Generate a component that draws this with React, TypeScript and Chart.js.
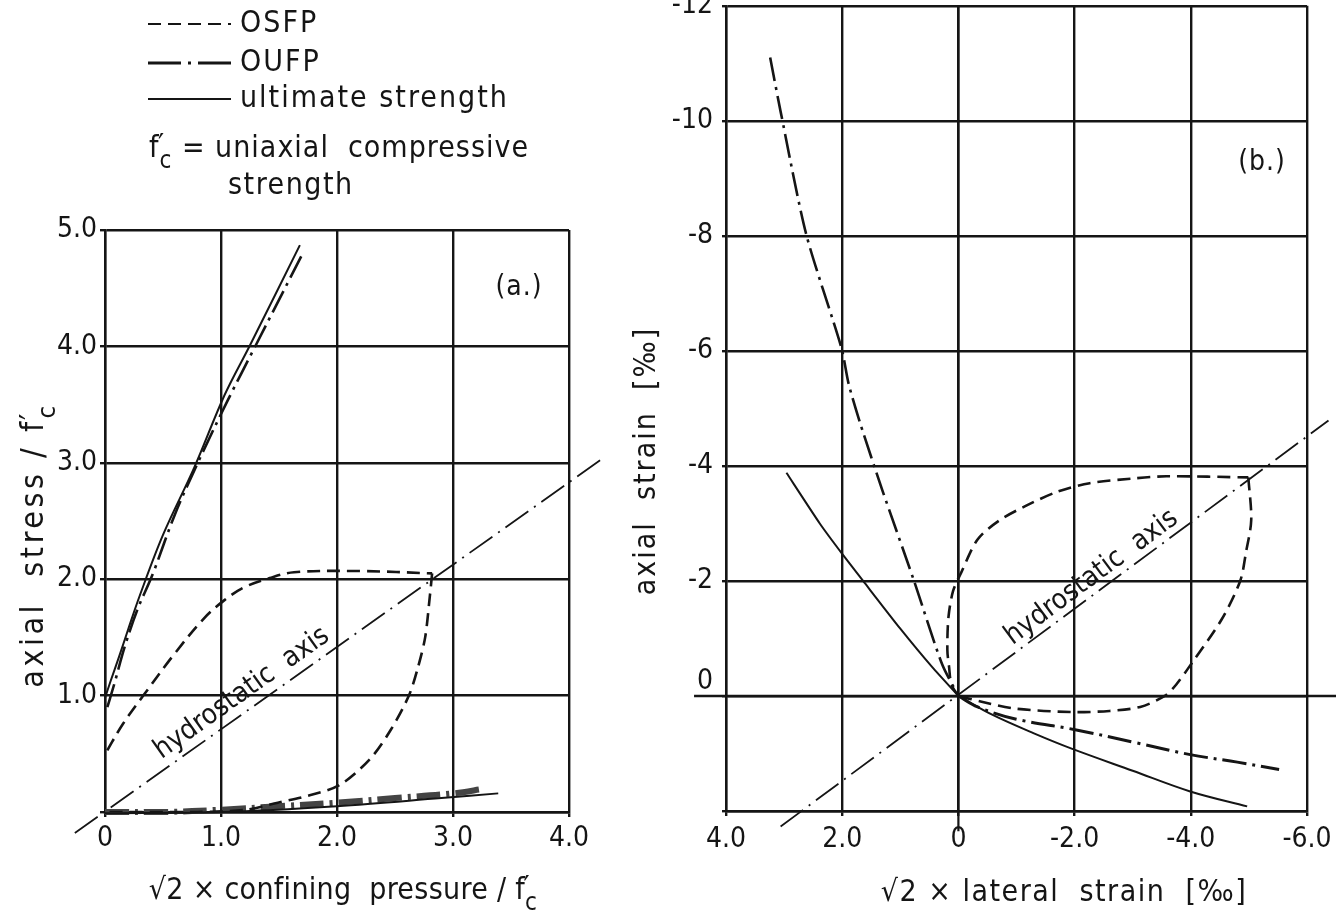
import { useEffect, useRef } from 'react';
import { Chart, registerables } from 'chart.js';

Chart.register(...registerables);

const FONT = '"Liberation Sans Narrow", "DejaVu Sans Condensed", "Liberation Sans", sans-serif';
const INK = '#151515';

// ---------- legend / notes ----------
const legendNames = ['OSFP', 'OUFP', 'ultimate strength'];
const noteText = ' = uniaxial  compressive';
const noteText2 = 'strength';

// ---------- panel (a) ----------
const aXTickValues = [0, 1, 2, 3, 4];
const aXTickLabels = ['0', '1.0', '2.0', '3.0', '4.0'];
const aYTickValues = [0, 1, 2, 3, 4, 5];
const aYTickLabels = ['', '1.0', '2.0', '3.0', '4.0', '5.0'];

const aUltimate: [number, number][] = [[0, 0.98], [0.05, 1.13], [0.12, 1.33], [0.2, 1.57], [0.3, 1.86], [0.5, 2.38], [0.77, 2.96], [1.03, 3.58], [1.25, 4.01], [1.68, 4.87]];
const aOUFP: [number, number][] = [[0.02, 0.9], [0.08, 1.1], [0.17, 1.42], [0.28, 1.74], [0.41, 2.04], [0.6, 2.55], [0.8, 3.0], [1.06, 3.54], [1.3, 4.01], [1.7, 4.79]];
const aUltimateBase: [number, number][] = [[0, -0.01], [1.0, 0.0], [2.0, 0.05], [2.9, 0.12], [3.39, 0.16]];
const aOUFPBase: [number, number][] = [[0, 0], [0.5, 0.0], [1.0, 0.02], [1.5, 0.05], [2.0, 0.08], [2.5, 0.12], [3.0, 0.16], [3.27, 0.2]];
const aOSFPUp: [number, number][] = [[0.02, 0.53], [0.15, 0.75], [0.33, 1.0], [0.6, 1.36], [0.85, 1.66], [1.03, 1.82], [1.2, 1.93], [1.42, 2.01], [1.63, 2.06], [2.2, 2.07], [2.82, 2.05]];
const aOSFPDown: [number, number][] = [[2.82, 2.05], [2.8, 1.85], [2.76, 1.5], [2.7, 1.25], [2.62, 1.0], [2.46, 0.7], [2.28, 0.45], [2.02, 0.23], [1.75, 0.14], [1.49, 0.08], [1.22, 0.02], [0.8, 0.0], [0, 0]];
const aHydro: [number, number][] = [[-0.26, -0.18], [4.28, 3.03]];
const aHydroLabelAt: [number, number] = [1.18, 1.02];

// ---------- panel (b) ----------
const bXTickValues = [-6, -4, -2, 0, 2, 4];
const bXTickLabels = ['-6.0', '-4.0', '-2.0', '0', '2.0', '4.0'];
const bYTickValues = [-12, -10, -8, -6, -4, -2, 0, 2];
const bYTickLabels = ['-12', '-10', '-8', '-6', '-4', '-2', '0', ''];

const bOUFPUp: [number, number][] = [[3.24, -11.1], [3.06, -10.16], [2.62, -8.03], [2.01, -6.04], [1.89, -5.43], [1.69, -4.74], [1.31, -3.58], [0.77, -2.02], [0.28, -0.55], [0, 0]];
const bOUFPDown: [number, number][] = [[0, 0], [-0.33, 0.19], [-0.98, 0.4], [-2.03, 0.59], [-3.0, 0.8], [-3.99, 1.02], [-4.8, 1.15], [-5.52, 1.28]];
const bUltimateUp: [number, number][] = [[2.96, -3.88], [2.38, -2.99], [2.0, -2.47], [1.64, -2.0], [1.0, -1.17], [0.45, -0.5], [0, 0]];
const bUltimateDown: [number, number][] = [[0, 0], [-0.59, 0.33], [-1.3, 0.65], [-1.96, 0.92], [-3.0, 1.3], [-3.99, 1.66], [-4.97, 1.92]];
const bOSFPUp: [number, number][] = [[0, 0], [0.12, -0.2], [0.16, -0.5], [0.19, -0.8], [0.17, -1.38], [0.09, -1.83], [-0.05, -2.15], [-0.33, -2.72], [-0.7, -3.05], [-1.15, -3.3], [-1.7, -3.55], [-2.26, -3.7], [-3.0, -3.78], [-3.58, -3.82], [-4.99, -3.8]];
const bOSFPDown: [number, number][] = [[-4.99, -3.8], [-5.04, -3.06], [-4.95, -2.5], [-4.85, -2.0], [-4.53, -1.33], [-4.03, -0.59], [-3.75, -0.2], [-3.55, 0], [-3.13, 0.19], [-2.6, 0.26], [-1.96, 0.28], [-0.98, 0.22], [-0.4, 0.1], [0, 0]];
const bHydro: [number, number][] = [[3.06, 2.27], [-6.37, -4.79]];
const bZeroH: [number, number][] = [[4.55, 0], [-6.6, 0]];
const bZeroV: [number, number][] = [[0, -12], [0, 2.35]];
const bHydroLabelAt: [number, number] = [-2.29, -2.06];

// ---------- styles ----------
const OSFP_DASH = [13, 7];
const OUFP_DASH = [24, 6, 3, 6];
const OUFP_LEGEND_DASH = [33, 7, 3, 7];
const HYDRO_DASH = [28, 7, 2, 7];

type Part = [string, 'n' | 'sup' | 'sub'];

function fontOf(size: number) {
  return `${size}px ${FONT}`;
}

function richWidth(ctx: CanvasRenderingContext2D, parts: Part[], size: number) {
  let w = 0;
  let pending = 0;
  for (const [t, k] of parts) {
    if (k === 'n') {
      ctx.font = fontOf(size);
      w += pending + ctx.measureText(t).width;
      pending = 0;
    } else if (k === 'sup') {
      ctx.font = fontOf(size);
      pending = ctx.measureText(t).width;
    } else {
      ctx.font = fontOf(size * 0.8);
      w += Math.max(ctx.measureText(t).width, pending);
      pending = 0;
    }
  }
  return w + pending;
}

function drawRich(
  ctx: CanvasRenderingContext2D,
  parts: Part[],
  x: number,
  y: number,
  size: number,
  opts: { rot?: number; align?: 'left' | 'center' | 'right'; spacing?: number } = {}
) {
  ctx.save();
  ctx.translate(x, y);
  if (opts.rot) ctx.rotate(opts.rot);
  (ctx as any).letterSpacing = `${opts.spacing ?? 0}px`;
  ctx.fillStyle = INK;
  ctx.textBaseline = 'middle';
  ctx.textAlign = 'left';
  const w = richWidth(ctx, parts, size);
  let cx = opts.align === 'left' ? 0 : opts.align === 'right' ? -w : -w / 2;
  let pending = 0;
  for (const [t, k] of parts) {
    if (k === 'n') {
      ctx.font = fontOf(size);
      cx += pending;
      pending = 0;
      ctx.fillText(t, cx, 0);
      cx += ctx.measureText(t).width;
    } else if (k === 'sup') {
      ctx.font = fontOf(size);
      ctx.fillText(t, cx - size * 0.05, -size * 0.05);
      pending = ctx.measureText(t).width;
    } else {
      ctx.font = fontOf(size * 0.8);
      ctx.fillText(t, cx, size * 0.42);
      cx += Math.max(ctx.measureText(t).width, pending);
      pending = 0;
    }
  }
  ctx.restore();
}

function seg(ctx: CanvasRenderingContext2D, x1: number, y1: number, x2: number, y2: number, w: number, dash: number[]) {
  ctx.save();
  ctx.strokeStyle = INK;
  ctx.lineWidth = w;
  ctx.setLineDash(dash);
  ctx.beginPath();
  ctx.moveTo(x1, y1);
  ctx.lineTo(x2, y2);
  ctx.stroke();
  ctx.restore();
}

function line(points: [number, number][], o: { w?: number; dash?: number[]; tension?: number; clip?: boolean; color?: string } = {}) {
  return {
    data: points.map(([x, y]) => ({ x, y })),
    showLine: true,
    borderColor: o.color ?? INK,
    borderWidth: o.w ?? 2,
    borderDash: o.dash ?? [],
    tension: o.tension ?? 0.35,
    pointRadius: 0,
    fill: false,
    clip: o.clip === false ? false : undefined,
  } as any;
}

function hydroText(chart: any, pts: [number, number][], at: [number, number]) {
  const xs = chart.scales.x;
  const ys = chart.scales.y;
  const x1 = xs.getPixelForValue(pts[0][0]);
  const y1 = ys.getPixelForValue(pts[0][1]);
  const x2 = xs.getPixelForValue(pts[1][0]);
  const y2 = ys.getPixelForValue(pts[1][1]);
  const ang = Math.atan2(y2 - y1, x2 - x1);
  const px = xs.getPixelForValue(at[0]);
  const py = ys.getPixelForValue(at[1]);
  drawRich(chart.ctx, [['hydrostatic  axis', 'n']], px, py, 28, { rot: ang, spacing: 0 });
}

function axisCfg(values: number[], labels: string[], opts: any) {
  return {
    type: 'linear',
    min: opts.min,
    max: opts.max,
    reverse: !!opts.reverse,
    afterBuildTicks: (s: any) => {
      s.ticks = values.map((v) => ({ value: v }));
    },
    afterFit: opts.afterFit,
    ticks: {
      autoSkip: false,
      maxRotation: 0,
      color: INK,
      padding: opts.padding,
      font: { family: FONT, size: 28 },
      callback: (v: any, i: number) => ((opts.skip || []).includes(v) ? '' : labels[i]),
    },
    grid: { color: INK, lineWidth: 2.4, drawTicks: true, tickLength: opts.tickLength ?? 5 },
    border: { display: true, color: INK, width: 2.4 },
  };
}

const decoA = {
  id: 'decoA',
  afterDraw(chart: any) {
    const ctx: CanvasRenderingContext2D = chart.ctx;
    // legend
    const ys = [24, 63, 99];
    const dashes = [OSFP_DASH, OUFP_LEGEND_DASH, []];
    legendNames.forEach((name, i) => {
      seg(ctx, 148, ys[i], 231, ys[i], i === 1 ? 3 : 2.2, dashes[i]);
      drawRich(ctx, [[name, 'n']], 240, ys[i], 30, { align: 'left', spacing: 2 });
    });
    drawRich(ctx, [['f', 'n'], ['′', 'sup'], ['c', 'sub'], [noteText, 'n']], 149, 149, 30, { align: 'left', spacing: 1 });
    drawRich(ctx, [[noteText2, 'n']], 228, 186, 30, { align: 'left', spacing: 1.5 });
    // titles
    drawRich(ctx, [['axial  stress / f', 'n'], ['′', 'sup'], ['c', 'sub']], 35, 545, 32, { rot: -Math.PI / 2, spacing: 3.5 });
    drawRich(ctx, [['√2 × confining  pressure / f', 'n'], ['′', 'sup'], ['c', 'sub']], 343, 891, 30, { spacing: 0.3 });
    drawRich(ctx, [['(a.)', 'n']], 519, 288, 28, { spacing: 1 });
    hydroText(chart, aHydro, aHydroLabelAt);
  },
};

const decoB = {
  id: 'decoB',
  afterDraw(chart: any) {
    const ctx: CanvasRenderingContext2D = chart.ctx;
    const ys = chart.scales.y;
    const zi = bYTickValues.indexOf(0);
    drawRich(ctx, [[bYTickLabels[zi], 'n']], chart.chartArea.left - 13, ys.getPixelForValue(0) - 14, 28, { align: 'right' });
    drawRich(ctx, [['axial  strain  [‰]', 'n']], 47, 481, 30, { rot: -Math.PI / 2, spacing: 2 });
    drawRich(ctx, [['√2 × lateral  strain  [‰]', 'n']], 464, 913, 30, { spacing: 1.5 });
    drawRich(ctx, [['(b.)', 'n']], 662, 183, 28, { spacing: 1 });
    hydroText(chart, bHydro, bHydroLabelAt);
  },
};

function configA(): any {
  return {
    type: 'scatter',
    data: {
      datasets: [
        line(aHydro, { w: 1.8, dash: HYDRO_DASH, tension: 0, clip: false }),
        line(aOSFPUp, { w: 2.6, dash: OSFP_DASH }),
        line(aOSFPDown, { w: 2.6, dash: OSFP_DASH, tension: 0.3 }),
        line(aUltimate, { w: 2 }),
        line(aOUFP, { w: 2.6, dash: OUFP_DASH }),
        line(aUltimateBase, { w: 2, clip: false }),
        line(aOUFPBase, { w: 6, dash: OUFP_DASH, color: '#444', clip: false }),
      ],
    },
    options: {
      responsive: false,
      animation: false,
      devicePixelRatio: 1,
      events: [],
      layout: { padding: { left: 0, top: 230, right: 71, bottom: 0 } },
      plugins: { legend: { display: false }, tooltip: { enabled: false } },
      scales: {
        x: axisCfg(aXTickValues, aXTickLabels, { min: 0, max: 4, padding: 5, afterFit: (s: any) => { s.height = 106; } }),
        y: axisCfg(aYTickValues, aYTickLabels, { min: 0, max: 5, padding: 3, afterFit: (s: any) => { s.width = 105; } }),
      },
    },
    plugins: [decoA],
  };
}

function configB(): any {
  return {
    type: 'scatter',
    data: {
      datasets: [
        line(bZeroH, { w: 2.6, tension: 0, clip: false }),
        line(bZeroV, { w: 2.2, tension: 0, clip: false }),
        line(bHydro, { w: 1.8, dash: HYDRO_DASH, tension: 0, clip: false }),
        line(bOSFPUp, { w: 2.6, dash: OSFP_DASH, tension: 0.3 }),
        line(bOSFPDown, { w: 2.6, dash: OSFP_DASH, tension: 0.3 }),
        line(bUltimateUp, { w: 2, tension: 0.2 }),
        line(bUltimateDown, { w: 2 }),
        line(bOUFPUp, { w: 2.6, dash: OUFP_DASH, tension: 0.25 }),
        line(bOUFPDown, { w: 3, dash: OUFP_DASH }),
      ],
    },
    options: {
      responsive: false,
      animation: false,
      devicePixelRatio: 1,
      events: [],
      layout: { padding: { left: 0, top: 21, right: 29, bottom: 0 } },
      plugins: { legend: { display: false }, tooltip: { enabled: false } },
      scales: {
        x: axisCfg(bXTickValues, bXTickLabels, { min: -6, max: 4, reverse: true, padding: 7, afterFit: (s: any) => { s.height = 107; } }),
        y: axisCfg(bYTickValues, bYTickLabels, { min: -12, max: 2, reverse: true, padding: 9, tickLength: 4, skip: [0], afterFit: (s: any) => { s.width = 126; } }),
      },
    },
    plugins: [decoB],
  };
}

export default function App() {
  const refA = useRef<HTMLCanvasElement>(null);
  const refB = useRef<HTMLCanvasElement>(null);
  useEffect(() => {
    const a = new Chart(refA.current as HTMLCanvasElement, configA());
    const b = new Chart(refB.current as HTMLCanvasElement, configB());
    return () => {
      a.destroy();
      b.destroy();
    };
  }, []);
  return (
    <div style={{ position: 'absolute', left: 0, top: 0, width: 1336, height: 918, overflow: 'hidden', background: '#fff' }}>
      <canvas ref={refA} width={640} height={918} style={{ position: 'absolute', left: 0, top: 0, width: 640, height: 918 }} />
      <canvas ref={refB} width={736} height={938} style={{ position: 'absolute', left: 600, top: -20, width: 736, height: 938 }} />
    </div>
  );
}
